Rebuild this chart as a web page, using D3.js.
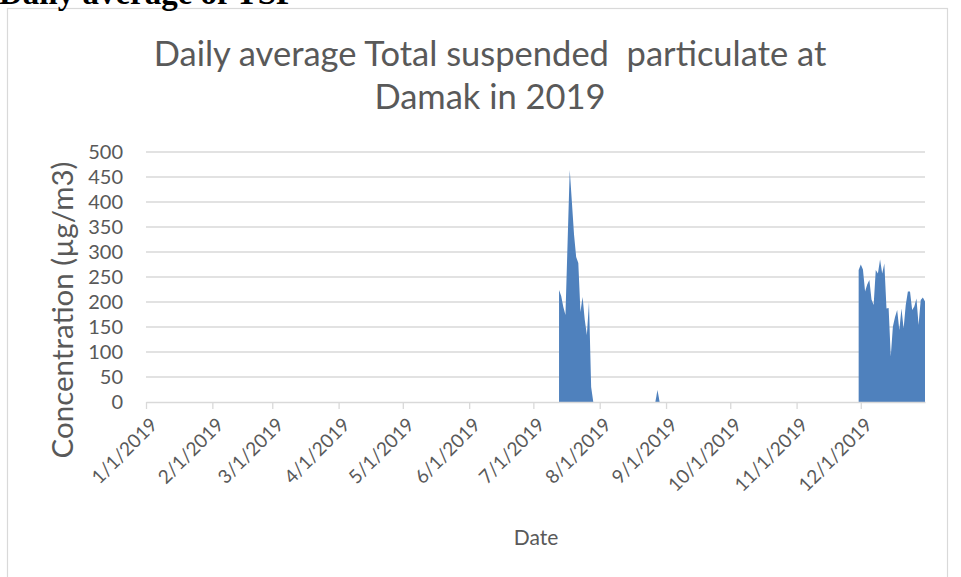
<!DOCTYPE html>
<meta charset="utf-8">
<script src="https://d3js.org/d3.v7.min.js"></script>
<style>
  body { margin: 0; background: #fff; }
  text { font-family: Lato, "Liberation Sans", sans-serif; fill: #595959; }
</style>
<div id="my_dataviz"></div>
<script>

// readings (µg/m3), each block starts on its first date
var julyStart = "2019-07-13";
var julyValues = [224, 212, 190, 174, 320, 464, 400, 335, 290, 278, 180, 210, 165, 134, 200, 30, 0];

var augStart = "2019-08-27";
var augValues = [0, 24, 0];

var decStart = "2019-11-30";
var decValues = [264, 275, 265, 221, 235, 244, 205, 194, 264, 257, 285, 257, 277, 187, 188,
                 91, 151, 170, 184, 144, 187, 147, 194, 221, 221, 184, 191, 207, 154, 204, 209, 201];

var yTicks = [0, 50, 100, 150, 200, 250, 300, 350, 400, 450, 500];
var monthTicks = ["2019-01-01", "2019-02-01", "2019-03-01", "2019-04-01", "2019-05-01", "2019-06-01",
                  "2019-07-01", "2019-08-01", "2019-09-01", "2019-10-01", "2019-11-01", "2019-12-01"];

var W = 961, H = 577;
var margin = {top: 152, right: 36, bottom: 175, left: 146};
var width = 925 - margin.left,
    height = 402 - margin.top;

var parse = d3.timeParse("%Y-%m-%d");

function block(start, values) {
  var d0 = parse(start);
  return values.map(function(v, i) { return {date: d3.timeDay.offset(d0, i), value: v}; });
}
var series = [block(julyStart, julyValues), block(augStart, augValues), block(decStart, decValues)];

var svg0 = d3.select("#my_dataviz")
  .append("svg")
    .attr("width", W)
    .attr("height", H);

// chart frame
svg0.append("rect")
  .attr("x", 7.5).attr("y", 8.5)
  .attr("width", 940).attr("height", 600)
  .style("fill", "none")
  .style("stroke", "#d9d9d9")
  .style("stroke-width", 1.2);

// heading of the document, cut by the top edge
svg0.append("text")
  .attr("x", -1)
  .attr("y", 4)
  .style("font-family", "'Liberation Serif', serif")
  .style("font-weight", "bold")
  .style("font-size", "33px")
  .style("fill", "#000")
  .text("Daily average of TSP");

var svg = svg0.append("g")
  .attr("transform", "translate(" + margin.left + "," + margin.top + ")");

var x = d3.scaleTime()
  .domain([parse("2019-01-01"), parse("2019-12-31")])
  .range([0, width]);

var y = d3.scaleLinear().domain([0, 500]).range([height, 0]);

// gridlines
svg.append("g")
  .selectAll("line")
  .data(yTicks.slice(1))
  .enter()
  .append("line")
    .attr("x1", 0).attr("x2", width)
    .attr("y1", function(d) { return y(d); })
    .attr("y2", function(d) { return y(d); })
    .style("stroke", "#d9d9d9")
    .style("stroke-width", 1.3);

// area
var area = d3.area()
  .x(function(d) { return x(d.date); })
  .y0(y(0))
  .y1(function(d) { return y(d.value); });

svg.selectAll("myAreas")
  .data(series)
  .enter()
  .append("path")
    .attr("d", area)
    .style("fill", "#4f81bd");

// Y axis
var yAxis = svg.append("g")
  .call(d3.axisLeft(y).tickValues(yTicks).tickSize(0).tickPadding(23));
yAxis.select(".domain").remove();
yAxis.selectAll("text")
  .style("font-size", "20px")
  .style("font-family", "Lato, sans-serif")
  .attr("fill", "#595959");

// X axis
var xAxis = svg.append("g")
  .attr("transform", "translate(0," + height + ")")
  .call(d3.axisBottom(x)
    .tickValues(monthTicks.map(parse))
    .tickFormat(d3.timeFormat("%-m/%-d/%Y"))
    .tickSize(7)
    .tickSizeOuter(0));
xAxis.select(".domain").style("stroke", "#d9d9d9").style("stroke-width", 1.3);
xAxis.selectAll("line").style("stroke", "#d9d9d9").style("stroke-width", 1.3);
xAxis.selectAll("text")
  .style("font-size", "19px")
  .style("font-family", "Lato, sans-serif")
  .attr("fill", "#595959")
  .style("text-anchor", "end")
  .attr("dx", 0).attr("dy", 0)
  .attr("y", 0)
  .attr("transform", "translate(12,24) rotate(-45)");

// axis titles
svg.append("text")
  .attr("transform", "rotate(-90)")
  .attr("x", -158)
  .attr("y", -73)
  .style("text-anchor", "middle")
  .style("font-size", "29.5px")
  .text("Concentration (µg/m3)");

svg.append("text")
  .attr("x", 390)
  .attr("y", 393)
  .style("text-anchor", "middle")
  .style("font-size", "21px")
  .text("Date");

// chart title
svg0.append("text")
  .attr("x", 490).attr("y", 66)
  .style("text-anchor", "middle")
  .style("font-size", "34.5px")
  .style("white-space", "pre")
  .text("Daily average Total suspended  particulate at");
svg0.append("text")
  .attr("x", 490).attr("y", 109)
  .style("text-anchor", "middle")
  .style("font-size", "34.5px")
  .text("Damak in 2019");

</script>
